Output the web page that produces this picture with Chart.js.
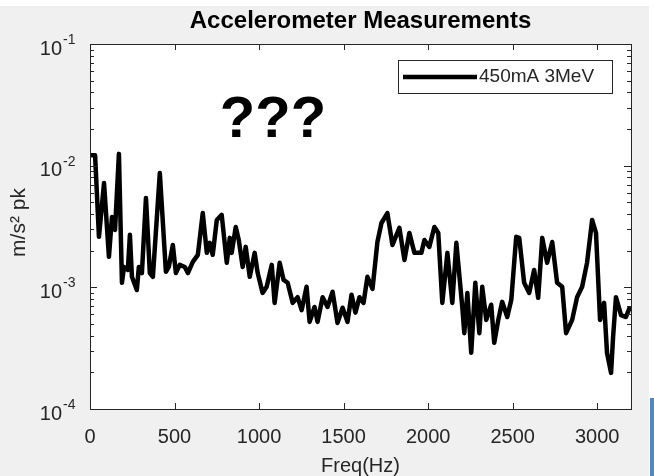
<!DOCTYPE html>
<html>
<head>
<meta charset="utf-8">
<script src="https://cdn.jsdelivr.net/npm/chart.js@4"></script>
<style>
  html, body { margin: 0; padding: 0; background: #fff; }
  #wrap { width: 654px; height: 476px; }
</style>
</head>
<body>
<div id="wrap"><canvas id="myChart" width="654" height="476"></canvas></div>
<script>
// accelerometer spectrum
var freqHz = [0, 30, 53, 83, 112, 130, 148, 171, 189, 201, 224, 236, 248, 277, 289, 307, 331, 354, 372, 413,
  449, 466, 490, 508, 531, 561, 579, 608, 638, 667, 691, 708, 726, 750, 779, 809, 827, 838, 862, 880,
  903, 921, 945, 974, 992, 1021, 1045, 1075, 1092, 1122, 1145, 1169, 1199, 1228, 1252, 1281, 1299, 1328, 1346, 1376,
  1405, 1435, 1464, 1494, 1523, 1547, 1570, 1594, 1618, 1641, 1671, 1700, 1724, 1759, 1789, 1830, 1860, 1889, 1919, 1960,
  1978, 2007, 2037, 2060, 2084, 2114, 2143, 2167, 2202, 2214, 2232, 2255, 2279, 2303, 2320, 2344, 2373, 2391, 2415, 2438,
  2468, 2492, 2521, 2539, 2568, 2598, 2627, 2651, 2675, 2704, 2734, 2763, 2793, 2816, 2852, 2881, 2911, 2940, 2970, 2993,
  3017, 3041, 3058, 3082, 3094, 3111, 3141, 3170, 3194];
var accel = [1.22e-2, 1.22e-2, 2.6e-3, 7.2e-3, 1.78e-3, 3.79e-3, 2.96e-3, 1.25e-2, 1.09e-3, 1.47e-3, 1.39e-3, 2.7e-3, 1.22e-3, 9.5e-4, 1.47e-3, 1.31e-3, 5.43e-3, 1.31e-3, 1.22e-3, 8.7e-3,
  1.34e-3, 1.47e-3, 2.23e-3, 1.31e-3, 1.53e-3, 1.47e-3, 1.31e-3, 1.62e-3, 1.85e-3, 4.08e-3, 1.92e-3, 2.32e-3, 1.85e-3, 3.58e-3, 3.94e-3, 1.59e-3, 2.55e-3, 1.92e-3, 3.13e-3, 2.45e-3,
  1.47e-3, 2.15e-3, 1.22e-3, 1.92e-3, 1.31e-3, 9.0e-4, 1.01e-3, 1.53e-3, 7.45e-4, 1.59e-3, 1.15e-3, 1.09e-3, 7.45e-4, 8.3e-4, 6.5e-4, 1.01e-3, 5.2e-4, 6.9e-4, 5.2e-4, 8.3e-4,
  6.9e-4, 9.2e-4, 5.1e-4, 6.8e-4, 5.2e-4, 8.7e-4, 6.2e-4, 8.3e-4, 7.45e-4, 1.22e-3, 9.7e-4, 2.36e-3, 3.38e-3, 4.08e-3, 2.23e-3, 3.08e-3, 1.68e-3, 2.8e-3, 1.92e-3, 1.92e-3,
  2.45e-3, 2.15e-3, 3.13e-3, 2.8e-3, 7.45e-4, 1.92e-3, 7.45e-4, 2.32e-3, 6.9e-4, 4.2e-4, 9.0e-4, 2.9e-4, 1.09e-3, 4.2e-4, 1.01e-3, 5.4e-4, 7.2e-4, 3.5e-4, 5.4e-4, 7.6e-4,
  5.7e-4, 7.9e-4, 2.6e-3, 2.55e-3, 1.09e-3, 9.0e-4, 1.39e-3, 8.2e-4, 2.55e-3, 1.59e-3, 2.36e-3, 1.09e-3, 1.01e-3, 4.2e-4, 5.4e-4, 8.3e-4, 1.01e-3, 1.59e-3, 3.58e-3, 2.8e-3,
  5.4e-4, 7.45e-4, 2.9e-4, 1.98e-4, 3.9e-4, 8.3e-4, 5.9e-4, 5.7e-4, 6.9e-4];

var xTicks = [0, 500, 1000, 1500, 2000, 2500, 3000];
var yTicks = [1e-1, 1e-2, 1e-3, 1e-4];
var yTickExp = ['-1', '-2', '-3', '-4'];
var seriesName = '450mA 3MeV';

var FONT = '"Liberation Sans", Arial, sans-serif';
var AX = '#262626';

// MATLAB-ish axes: box, inward ticks, labels, legend
var matlabAxes = {
  id: 'matlabAxes',
  beforeDraw: function(chart) {
    var c = chart.ctx, a = chart.chartArea;
    c.save();
    c.fillStyle = '#f0f0f0';
    c.fillRect(0, 6, 649, 470);
    c.fillStyle = '#4f87c6';
    c.fillRect(650, 398, 4, 78);
    c.fillStyle = '#fff';
    c.fillRect(a.left, a.top, a.right - a.left, a.bottom - a.top);
    c.restore();
  },
  afterDraw: function(chart) {
    var c = chart.ctx, a = chart.chartArea;
    var xs = chart.scales.x, ys = chart.scales.y;
    c.save();
    c.strokeStyle = AX;
    c.lineWidth = 1;

    // x ticks
    c.beginPath();
    xTicks.forEach(function(t) {
      var px = Math.round(xs.getPixelForValue(t)) + 0.5;
      c.moveTo(px, a.bottom); c.lineTo(px, a.bottom - 6);
      c.moveTo(px, a.top); c.lineTo(px, a.top + 6);
    });
    // y ticks, major + minor
    for (var k = -4; k <= -1; k++) {
      for (var m = 1; m <= 9; m++) {
        var v = m * Math.pow(10, k);
        if (v > 0.1 * 1.0001) break;
        var py = Math.round(ys.getPixelForValue(v)) + 0.5;
        var len = m === 1 ? 7 : 4;
        c.moveTo(a.left, py); c.lineTo(a.left + len, py);
        c.moveTo(a.right, py); c.lineTo(a.right - len, py);
      }
    }
    c.stroke();

    // box
    c.strokeRect(Math.round(a.left) + 0.5, Math.round(a.top) + 0.5, Math.round(a.right - a.left), Math.round(a.bottom - a.top));

    // tick labels
    c.fillStyle = AX;
    c.font = '20px ' + FONT;
    c.textAlign = 'center';
    c.textBaseline = 'middle';
    xTicks.forEach(function(t) {
      c.fillText(String(t), xs.getPixelForValue(t), a.bottom + 28);
    });
    yTicks.forEach(function(t, i) {
      var py = ys.getPixelForValue(t);
      c.font = '20px ' + FONT;
      c.textAlign = 'right';
      c.fillText('10', 62, py + 5);
      c.font = '14px ' + FONT;
      c.textAlign = 'left';
      c.fillText(yTickExp[i], 63, py - 4);
    });

    // axis titles
    c.font = '20px ' + FONT;
    c.textAlign = 'center';
    c.fillText('Freq(Hz)', (a.left + a.right) / 2, a.bottom + 57);
    c.save();
    c.translate(19, (a.top + a.bottom) / 2 - 4);
    c.rotate(-Math.PI / 2);
    c.font = '21px ' + FONT;
    c.fillText('m/s² pk', 0, 0);
    c.restore();

    // title
    c.fillStyle = '#000';
    c.font = 'bold 24px ' + FONT;
    c.fillText('Accelerometer Measurements', (a.left + a.right) / 2, 21);

    // legend
    c.fillStyle = '#fff';
    c.fillRect(398, 60, 214, 33);
    c.strokeStyle = AX;
    c.strokeRect(398.5, 60.5, 214, 33);
    c.strokeStyle = '#000';
    c.lineWidth = 4.5;
    c.beginPath();
    c.moveTo(403, 77); c.lineTo(477, 77);
    c.stroke();
    c.fillStyle = AX;
    c.font = '19px ' + FONT;
    c.textAlign = 'left';
    c.fillText(seriesName, 479, 77);

    // the big question marks
    c.fillStyle = '#000';
    c.font = 'bold 58px ' + FONT;
    c.textAlign = 'center';
    c.fillText('???', 273, 121);
    c.restore();
  }
};

var ctx = document.getElementById('myChart');
var myChart = new Chart(ctx, {
  type: 'line',
  data: {
    datasets: [{
      label: seriesName,
      data: freqHz.map(function(f, i) { return { x: f, y: accel[i] }; }),
      borderColor: '#000',
      borderWidth: 4.5,
      pointRadius: 0,
      tension: 0,
      borderJoinStyle: 'round'
    }]
  },
  options: {
    responsive: false,
    animation: false,
    events: [],
    layout: {
      padding: { left: 90, right: 23, top: 44, bottom: 67 }
    },
    scales: {
      x: { type: 'linear', min: 0, max: 3200, display: false },
      y: { type: 'logarithmic', min: 1e-4, max: 1e-1, display: false }
    },
    plugins: {
      legend: { display: false },
      tooltip: { enabled: false },
      title: { display: false }
    }
  },
  plugins: [matlabAxes]
});
</script>
</body>
</html>
